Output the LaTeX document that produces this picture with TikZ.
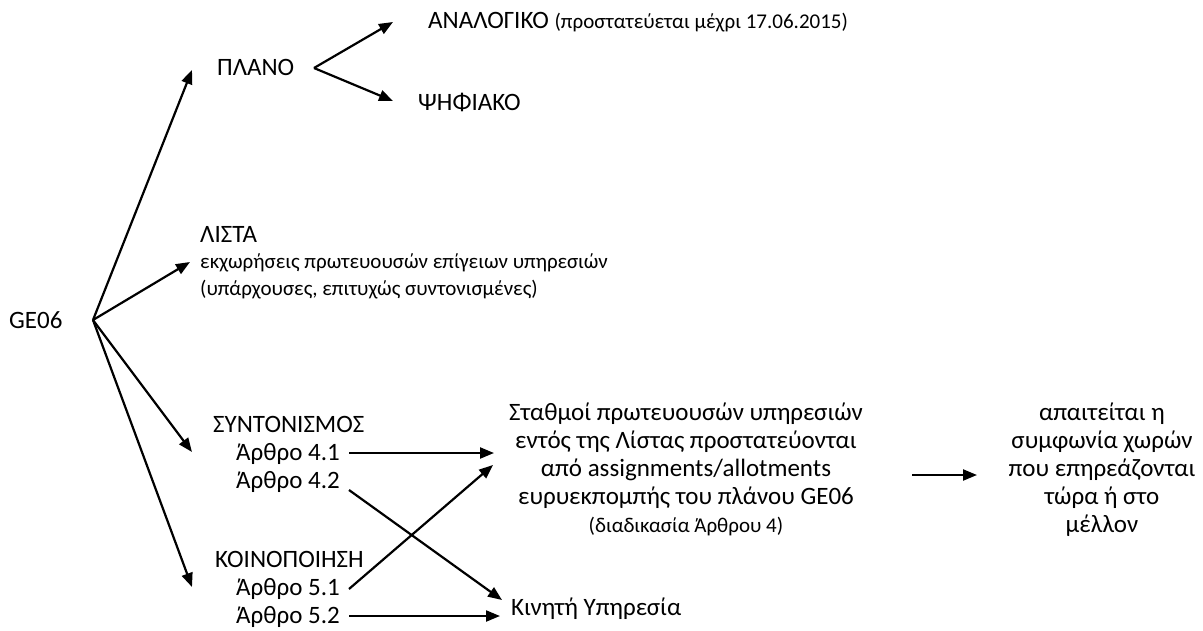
\documentclass[tikz,border=0pt]{standalone}
\usepackage{fontspec}
\setmainfont{Carlito}
\usetikzlibrary{arrows.meta}
\begin{document}
\begin{tikzpicture}[x=1pt,y=-1pt,
  big/.style={font=\fontsize{25}{28}\selectfont, inner sep=0pt, anchor=base west},
  sml/.style={font=\fontsize{21}{28}\selectfont, inner sep=0pt, anchor=base west},
  cbig/.style={font=\fontsize{25}{28}\selectfont, inner sep=0pt, anchor=base},
  csml/.style={font=\fontsize{21}{28}\selectfont, inner sep=0pt, anchor=base},
  arr/.style={line width=2.2pt, -{Triangle[length=14pt,width=11pt]}}]
\useasboundingbox (0,0) rectangle (1203,630);
% texts
\node[big] (ge) at (9,328) {GE06};
\node[big] (plano) at (217,75) {ΠΛΑΝΟ};
\node[big] (anal) at (428,28) {ΑΝΑΛΟΓΙΚΟ {\fontsize{21}{28}\selectfont(προστατεύεται μέχρι 17.06.2015)}};
\node[big] (psi) at (418,110) {ΨΗΦΙΑΚΟ};
\node[big] (lista) at (200,242) {ΛΙΣΤΑ};
\node[sml] (lista1) at (200,268) {εκχωρήσεις πρωτευουσών επίγειων υπηρεσιών};
\node[sml] (lista2) at (200,295) {(υπάρχουσες, επιτυχώς συντονισμένες)};
\node[big] (synt) at (213,432) {ΣΥΝΤΟΝΙΣΜΟΣ};
\node[big] (a41) at (236,460) {Άρθρο 4.1};
\node[big] (a42) at (236,488) {Άρθρο 4.2};
\node[big] (koin) at (215,567) {ΚΟΙΝΟΠΟΙΗΣΗ};
\node[big] (a51) at (236,595) {Άρθρο 5.1};
\node[big] (a52) at (236,623) {Άρθρο 5.2};
\node[big] (kin) at (511,615) {Κινητή Υπηρεσία};
\node[cbig] (s1) at (686,420) {Σταθμοί πρωτευουσών υπηρεσιών};
\node[cbig] (s2) at (686,448) {εντός της Λίστας προστατεύονται};
\node[cbig] (s3) at (686,476) {από assignments/allotments};
\node[cbig] (s4) at (686,504) {ευρυεκπομπής του πλάνου GE06};
\node[csml] (s5) at (686,532) {(διαδικασία Άρθρου 4)};
\node[cbig] (r1) at (1102,420) {απαιτείται η};
\node[cbig] (r2) at (1102,448) {συμφωνία χωρών};
\node[cbig] (r3) at (1102,476) {που επηρεάζονται};
\node[cbig] (r4) at (1102,504) {τώρα ή στο};
\node[cbig] (r5) at (1102,532) {μέλλον};
% connector points
\coordinate (geo) at (93,320);
\coordinate (planoin) at (192,70);
\coordinate (listain) at (190,262);
\coordinate (syntin) at (192,452);
\coordinate (koinin) at (192,587);
\coordinate (vtx) at (314,68);
\coordinate (analin) at (393,22);
\coordinate (psiin) at (393,101);
\coordinate (o41) at (349,453);
\coordinate (o42) at (349,490);
\coordinate (o51) at (349,589);
\coordinate (o52) at (349,616);
\coordinate (sin1) at (494,453);
\coordinate (sin2) at (493,465);
\coordinate (kin1) at (502,600);
\coordinate (kin2) at (500,616);
\coordinate (mo) at (912,475);
\coordinate (mi) at (977,475);
% arrows
\draw[arr] (geo) -- (planoin);
\draw[arr] (geo) -- (listain);
\draw[arr] (geo) -- (syntin);
\draw[arr] (geo) -- (koinin);
\draw[arr] (vtx) -- (analin);
\draw[arr] (vtx) -- (psiin);
\draw[arr] (o41) -- (sin1);
\draw[arr] (o42) -- (kin1);
\draw[arr] (o51) -- (sin2);
\draw[arr] (o52) -- (kin2);
\draw[arr] (mo) -- (mi);
\end{tikzpicture}
\end{document}
